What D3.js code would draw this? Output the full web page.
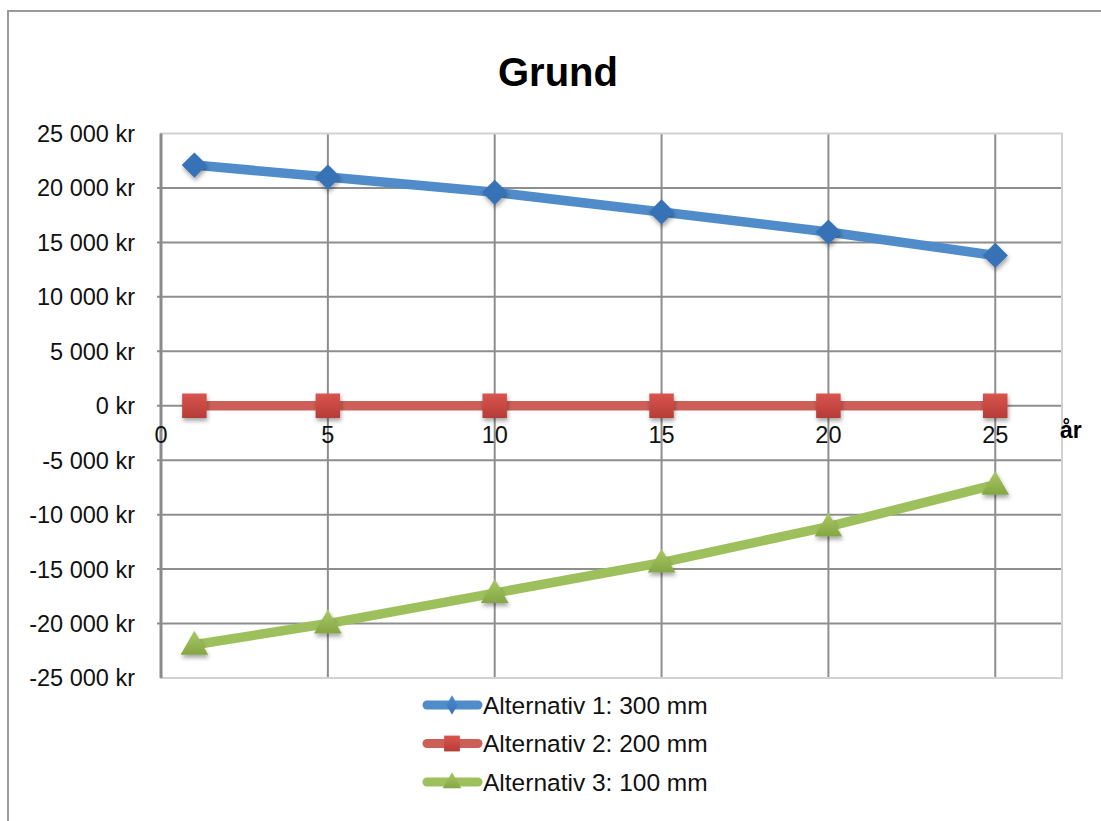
<!DOCTYPE html>
<html>
<head>
<meta charset="utf-8">
<script src="https://cdn.jsdelivr.net/npm/d3@7"></script>
<style>
  html, body { margin: 0; padding: 0; background: #fff; }
  svg { display: block; font-family: "Liberation Sans", Arial, sans-serif; }
</style>
</head>
<body>
<svg id="chart" width="1101" height="821"></svg>
<script>
// Years on the horizontal axis
const years = [1, 5, 10, 15, 20, 25];

// Net values (kr) per insulation alternative
const alt1 = [22100, 21000, 19600, 17800, 15950, 13800];
const alt2 = [0, 0, 0, 0, 0, 0];
const alt3 = [-21950, -20000, -17200, -14400, -11100, -7250];

const seriesNames = ["Alternativ 1: 300 mm", "Alternativ 2: 200 mm", "Alternativ 3: 100 mm"];
const xTicks = [0, 5, 10, 15, 20, 25];
const yTicks = [-25000, -20000, -15000, -10000, -5000, 0, 5000, 10000, 15000, 20000, 25000];

const chartTitle = "Grund";
const xAxisTitle = "år";

const svg = d3.select("#chart");
const defs = svg.append("defs");

// Soft shadow under markers
const shadow = defs.append("filter").attr("id", "shadow")
  .attr("x", "-50%").attr("y", "-50%").attr("width", "200%").attr("height", "200%");
shadow.append("feDropShadow")
  .attr("dx", 1).attr("dy", 3).attr("stdDeviation", 2)
  .attr("flood-color", "#000").attr("flood-opacity", 0.35);

// Marker shapes: the diamond is a square turned 45 degrees
const styles = [
  { line: "#4f8cc9", top: "#4a8bd2", bottom: "#3872b6", symbol: d3.symbolSquare, rotate: 45, size: 320, legSymbol: d3.symbolDiamond, legSize: 110, dy: 0 },
  { line: "#cd5f59", top: "#d9554f", bottom: "#b63c37", symbol: d3.symbolSquare, rotate: 0, size: 600, legSymbol: d3.symbolSquare, legSize: 250, dy: 0 },
  { line: "#9dc05c", top: "#a8c964", bottom: "#84a543", symbol: d3.symbolTriangle, rotate: 0, size: 330, legSymbol: d3.symbolTriangle, legSize: 150, dy: 2 }
];

// Vertical shading per series, in user space so it stays upright on rotated markers
styles.forEach((s, i) => {
  const g = defs.append("linearGradient").attr("id", "grad" + i)
    .attr("x1", 0).attr("y1", 0).attr("x2", 0).attr("y2", 1);
  g.append("stop").attr("offset", "0%").attr("stop-color", s.top);
  g.append("stop").attr("offset", "100%").attr("stop-color", s.bottom);
});

// Outer chart frame
svg.append("path")
  .attr("d", "M8,830 L8,11 L1110,11")
  .attr("fill", "none").attr("stroke", "#9a9a9a").attr("stroke-width", 2);

// Scales
const x = d3.scaleLinear().domain([0, 27]).range([161, 1062]);
const y = d3.scaleLinear().domain([-25000, 25000]).range([678, 133.5]);

// Title
svg.append("text")
  .attr("x", 558).attr("y", 86)
  .attr("text-anchor", "middle")
  .attr("font-size", 40).attr("font-weight", "bold").attr("fill", "#000")
  .text(chartTitle);

// Horizontal gridlines (with small tick stubs left of the axis)
svg.append("g").selectAll("line")
  .data(yTicks.filter(v => v !== 25000 && v !== -25000))
  .join("line")
  .attr("x1", x(0) - 4).attr("x2", x(27))
  .attr("y1", d => y(d)).attr("y2", d => y(d))
  .attr("stroke", "#8e8e8e").attr("stroke-width", 2);

// Vertical gridlines
svg.append("g").selectAll("line")
  .data(xTicks.filter(v => v !== 0))
  .join("line")
  .attr("x1", d => x(d)).attr("x2", d => x(d))
  .attr("y1", y(25000)).attr("y2", y(-25000))
  .attr("stroke", "#8e8e8e").attr("stroke-width", 2);

// Plot area border
svg.append("rect")
  .attr("x", x(0)).attr("y", y(25000))
  .attr("width", x(27) - x(0)).attr("height", y(-25000) - y(25000))
  .attr("fill", "none").attr("stroke", "#d2d2d2").attr("stroke-width", 2);

// Vertical axis line
svg.append("line")
  .attr("x1", x(0)).attr("x2", x(0))
  .attr("y1", y(25000)).attr("y2", y(-25000))
  .attr("stroke", "#8a8a8a").attr("stroke-width", 3);

// Y-axis labels
const fmt = v => (v < 0 ? "-" : "") + d3.format(",")(Math.abs(v)).replace(/,/g, " ") + " kr";
svg.append("g").selectAll("text")
  .data(yTicks)
  .join("text")
  .attr("x", 135).attr("y", d => y(d))
  .attr("dy", "0.36em")
  .attr("text-anchor", "end")
  .attr("font-size", 23.5).attr("fill", "#111")
  .text(fmt);

// X-axis labels, placed just under the zero line
svg.append("g").selectAll("text")
  .data(xTicks)
  .join("text")
  .attr("x", d => x(d)).attr("y", y(0) + 37)
  .attr("text-anchor", "middle")
  .attr("font-size", 23.5).attr("fill", "#111")
  .text(d => d);

svg.append("text")
  .attr("x", 1060).attr("y", 438)
  .attr("font-size", 23).attr("font-weight", "bold").attr("fill", "#000")
  .text(xAxisTitle);

// Series
const seriesData = [alt1, alt2, alt3];
const line = d3.line().x(d => x(d[0])).y(d => y(d[1]));

seriesData.forEach((vals, i) => {
  const pts = years.map((yr, j) => [yr, vals[j]]);
  const s = styles[i];
  svg.append("path")
    .datum(pts)
    .attr("d", line)
    .attr("fill", "none")
    .attr("stroke", s.line)
    .attr("stroke-width", 9.5)
    .attr("stroke-linejoin", "round");
  svg.append("g").selectAll("g")
    .data(pts)
    .join("g")
    .attr("transform", d => `translate(${x(d[0])},${y(d[1]) + s.dy})`)
    .attr("filter", "url(#shadow)")
    .append("path")
    .attr("transform", `rotate(${s.rotate})`)
    .attr("d", d3.symbol(s.symbol, s.size))
    .attr("fill", s.rotate ? s.bottom : `url(#grad${i})`);
});

// Legend
const legendY = [705, 743.5, 782];
seriesNames.forEach((name, i) => {
  const s = styles[i];
  const g = svg.append("g");
  g.append("line")
    .attr("x1", 427).attr("x2", 478)
    .attr("y1", legendY[i]).attr("y2", legendY[i])
    .attr("stroke", s.line).attr("stroke-width", 9).attr("stroke-linecap", "round");
  g.append("path")
    .attr("transform", `translate(452,${legendY[i] + (i === 2 ? 1 : 0)})`)
    .attr("d", d3.symbol(s.legSymbol, s.legSize))
    .attr("fill", `url(#grad${i})`);
  g.append("text")
    .attr("x", 483).attr("y", legendY[i])
    .attr("dy", "0.36em")
    .attr("font-size", 24.5).attr("fill", "#111")
    .text(name);
});
</script>
</body>
</html>
